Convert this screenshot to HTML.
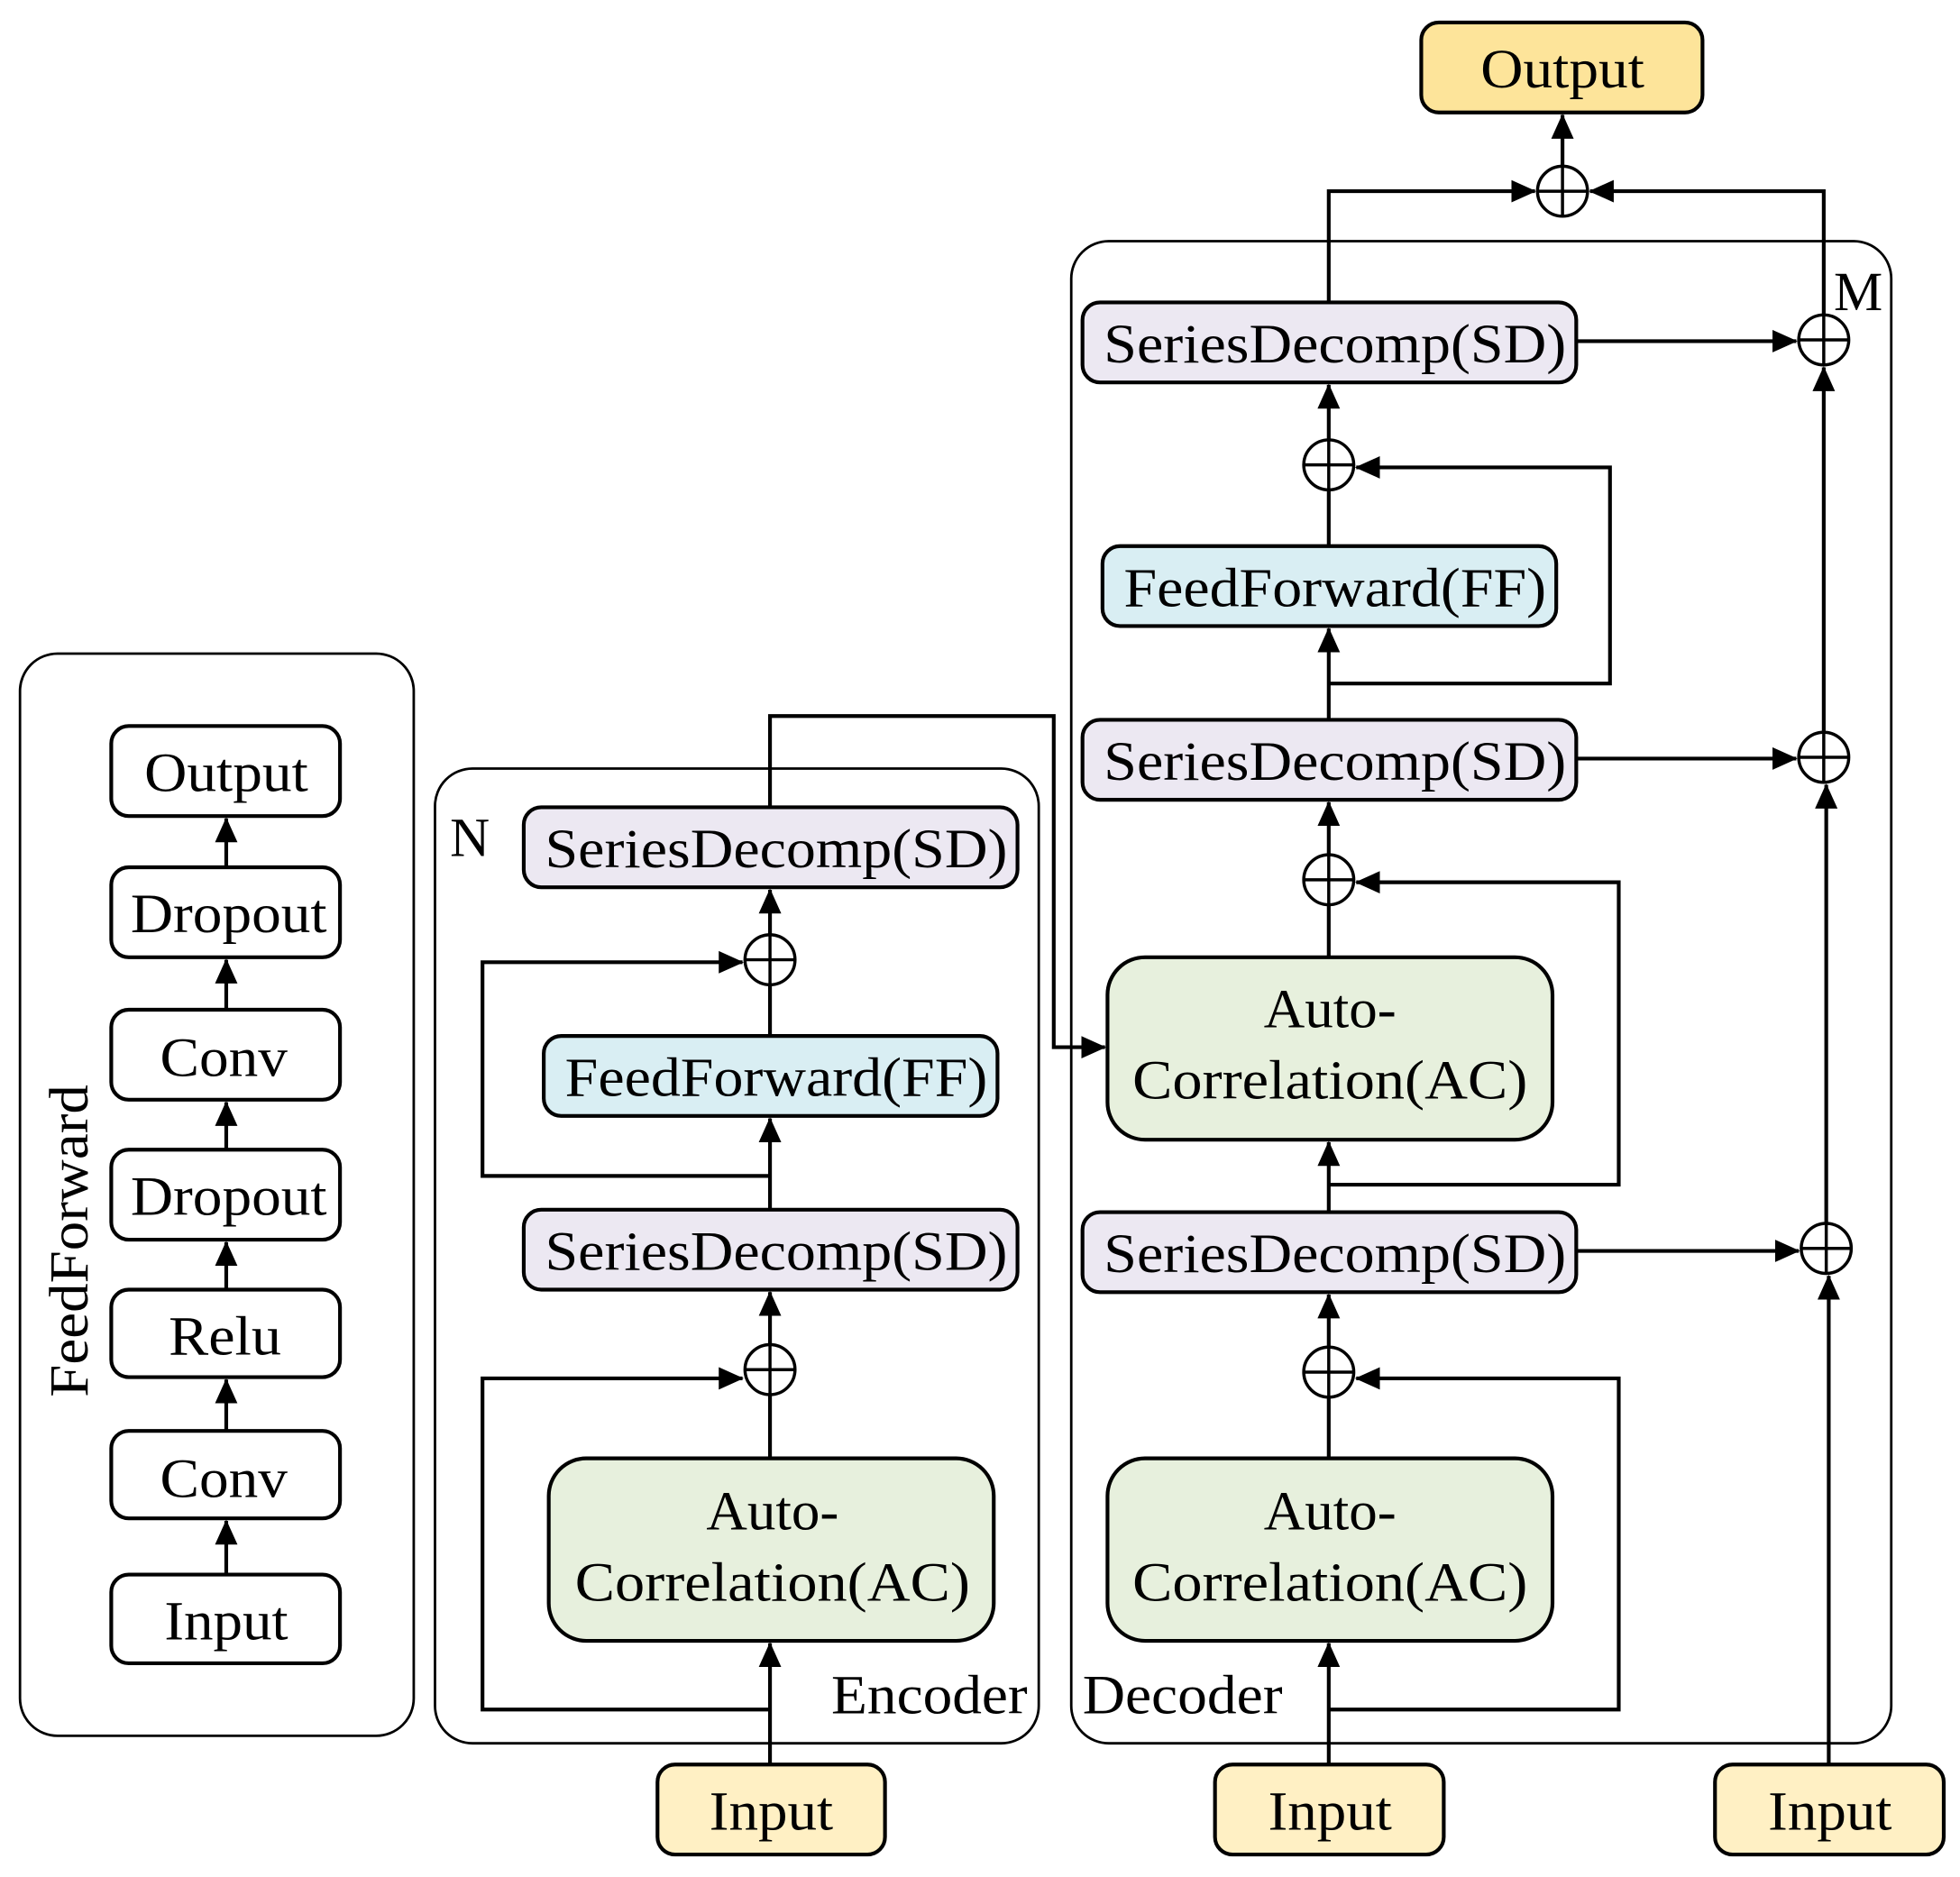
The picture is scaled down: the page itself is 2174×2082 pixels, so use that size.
<!DOCTYPE html>
<html><head><meta charset="utf-8"><style>
html,body{margin:0;padding:0;background:#fff;}
svg{display:block;}
text{font-family:"Liberation Serif",serif;fill:#000;}
</style></head><body>
<svg width="2174" height="2082" viewBox="0 0 1568 1502" preserveAspectRatio="none" xmlns="http://www.w3.org/2000/svg">
<defs>
<marker id="b" markerWidth="20" markerHeight="18" refX="19" refY="9" orient="auto" markerUnits="userSpaceOnUse" viewBox="0 0 20 18">
<path d="M0,0 L20,9 L0,18 z" fill="#000"/></marker>
</defs>
<g fill="none" stroke="#000" stroke-width="2">
<rect x="16" y="523" width="315" height="866" rx="30"/>
<rect x="348" y="615" width="483" height="780" rx="30"/>
<rect x="857" y="193" width="656" height="1202" rx="30"/>
</g>
<g stroke="#000" stroke-width="3" fill="#fff">
<rect x="89" y="581" width="183" height="72" rx="14"/>
<rect x="89" y="694" width="183" height="72" rx="14"/>
<rect x="89" y="808" width="183" height="72" rx="14"/>
<rect x="89" y="920" width="183" height="72" rx="14"/>
<rect x="89" y="1032" width="183" height="70" rx="14"/>
<rect x="89" y="1145" width="183" height="70" rx="14"/>
<rect x="89" y="1260" width="183" height="71" rx="14"/>
</g>
<g stroke="#000" stroke-width="3" marker-end="url(#b)">
<line x1="181" y1="694" x2="181" y2="655"/>
<line x1="181" y1="808" x2="181" y2="768"/>
<line x1="181" y1="920" x2="181" y2="882"/>
<line x1="181" y1="1032" x2="181" y2="994"/>
<line x1="181" y1="1145" x2="181" y2="1104"/>
<line x1="181" y1="1260" x2="181" y2="1217"/>
</g>
<g font-size="44" text-anchor="middle" lengthAdjust="spacingAndGlyphs">
<text x="181" y="633" textLength="131" lengthAdjust="spacingAndGlyphs">Output</text>
<text x="183" y="746" textLength="157" lengthAdjust="spacingAndGlyphs">Dropout</text>
<text x="179" y="861" textLength="102" lengthAdjust="spacingAndGlyphs">Conv</text>
<text x="183" y="972" textLength="157" lengthAdjust="spacingAndGlyphs">Dropout</text>
<text x="180" y="1084" textLength="90" lengthAdjust="spacingAndGlyphs">Relu</text>
<text x="179" y="1198" textLength="102" lengthAdjust="spacingAndGlyphs">Conv</text>
<text x="181" y="1312" textLength="99" lengthAdjust="spacingAndGlyphs">Input</text>
<text transform="translate(70,993) rotate(-90)" textLength="250" lengthAdjust="spacingAndGlyphs">FeedForward</text>
</g>
<g stroke="#000" stroke-width="3">
<rect x="419" y="646" width="395" height="64" rx="14" fill="#ece8f2"/>
<rect x="435" y="829" width="363" height="64" rx="14" fill="#d9eef3"/>
<rect x="419" y="968" width="395" height="64" rx="14" fill="#ece8f2"/>
<rect x="439" y="1167" width="356" height="146" rx="30" fill="#e7f0dd"/>
<rect x="526" y="1412" width="182" height="72" rx="14" fill="#fff0c4"/>
<rect x="866" y="242" width="395" height="64" rx="14" fill="#ece8f2"/>
<rect x="882" y="437" width="363" height="64" rx="14" fill="#d9eef3"/>
<rect x="866" y="576" width="395" height="64" rx="14" fill="#ece8f2"/>
<rect x="886" y="766" width="356" height="146" rx="30" fill="#e7f0dd"/>
<rect x="866" y="970" width="395" height="64" rx="14" fill="#ece8f2"/>
<rect x="886" y="1167" width="356" height="146" rx="30" fill="#e7f0dd"/>
<rect x="972" y="1412" width="183" height="72" rx="14" fill="#fff0c4"/>
<rect x="1372" y="1412" width="183" height="72" rx="14" fill="#fff0c4"/>
<rect x="1137" y="18" width="225" height="72" rx="14" fill="#fde49a"/>
</g>
<g font-size="44" text-anchor="middle">
<text x="621" y="694" textLength="370" lengthAdjust="spacingAndGlyphs">SeriesDecomp(SD)</text>
<text x="621" y="877" textLength="338" lengthAdjust="spacingAndGlyphs">FeedForward(FF)</text>
<text x="621" y="1016" textLength="370" lengthAdjust="spacingAndGlyphs">SeriesDecomp(SD)</text>
<text x="618" y="1224" textLength="106" lengthAdjust="spacingAndGlyphs">Auto-</text>
<text x="618" y="1281" textLength="316" lengthAdjust="spacingAndGlyphs">Correlation(AC)</text>
<text x="617" y="1464" textLength="99" lengthAdjust="spacingAndGlyphs">Input</text>
<text x="1068" y="290" textLength="370" lengthAdjust="spacingAndGlyphs">SeriesDecomp(SD)</text>
<text x="1068" y="485" textLength="338" lengthAdjust="spacingAndGlyphs">FeedForward(FF)</text>
<text x="1068" y="624" textLength="370" lengthAdjust="spacingAndGlyphs">SeriesDecomp(SD)</text>
<text x="1064" y="822" textLength="106" lengthAdjust="spacingAndGlyphs">Auto-</text>
<text x="1064" y="879" textLength="316" lengthAdjust="spacingAndGlyphs">Correlation(AC)</text>
<text x="1068" y="1018" textLength="370" lengthAdjust="spacingAndGlyphs">SeriesDecomp(SD)</text>
<text x="1064" y="1224" textLength="106" lengthAdjust="spacingAndGlyphs">Auto-</text>
<text x="1064" y="1281" textLength="316" lengthAdjust="spacingAndGlyphs">Correlation(AC)</text>
<text x="1064" y="1464" textLength="99" lengthAdjust="spacingAndGlyphs">Input</text>
<text x="1464" y="1464" textLength="99" lengthAdjust="spacingAndGlyphs">Input</text>
<text x="1250" y="70" textLength="131" lengthAdjust="spacingAndGlyphs">Output</text>
</g>
<g font-size="44">
<text x="360" y="685">N</text>
<text x="665" y="1371" textLength="157" lengthAdjust="spacingAndGlyphs">Encoder</text>
<text x="866" y="1371" textLength="160" lengthAdjust="spacingAndGlyphs">Decoder</text>
<text x="1467" y="248">M</text>
</g>
<g stroke="#000" stroke-width="2.5" fill="#fff">
<g transform="translate(616,768)"><circle r="20"/><line x1="-20" y1="0" x2="20" y2="0"/><line x1="0" y1="-20" x2="0" y2="20"/></g>
<g transform="translate(616,1096)"><circle r="20"/><line x1="-20" y1="0" x2="20" y2="0"/><line x1="0" y1="-20" x2="0" y2="20"/></g>
<g transform="translate(1063,372)"><circle r="20"/><line x1="-20" y1="0" x2="20" y2="0"/><line x1="0" y1="-20" x2="0" y2="20"/></g>
<g transform="translate(1063,704)"><circle r="20"/><line x1="-20" y1="0" x2="20" y2="0"/><line x1="0" y1="-20" x2="0" y2="20"/></g>
<g transform="translate(1063,1098)"><circle r="20"/><line x1="-20" y1="0" x2="20" y2="0"/><line x1="0" y1="-20" x2="0" y2="20"/></g>
<g transform="translate(1459,272)"><circle r="20"/><line x1="-20" y1="0" x2="20" y2="0"/><line x1="0" y1="-20" x2="0" y2="20"/></g>
<g transform="translate(1459,606)"><circle r="20"/><line x1="-20" y1="0" x2="20" y2="0"/><line x1="0" y1="-20" x2="0" y2="20"/></g>
<g transform="translate(1461,999)"><circle r="20"/><line x1="-20" y1="0" x2="20" y2="0"/><line x1="0" y1="-20" x2="0" y2="20"/></g>
<g transform="translate(1250,153)"><circle r="20"/><line x1="-20" y1="0" x2="20" y2="0"/><line x1="0" y1="-20" x2="0" y2="20"/></g>
</g>
<g stroke="#000" stroke-width="3" fill="none">
<line x1="616" y1="1412" x2="616" y2="1315" marker-end="url(#b)"/>
<polyline points="616,1368 386,1368 386,1103 594,1103" marker-end="url(#b)"/>
<line x1="616" y1="1167" x2="616" y2="1116"/>
<line x1="616" y1="1076" x2="616" y2="1034" marker-end="url(#b)"/>
<line x1="616" y1="968" x2="616" y2="895" marker-end="url(#b)"/>
<polyline points="616,941 386,941 386,770 594,770" marker-end="url(#b)"/>
<line x1="616" y1="829" x2="616" y2="788"/>
<line x1="616" y1="748" x2="616" y2="712" marker-end="url(#b)"/>
<polyline points="616,646 616,573 843,573 843,838 884,838" marker-end="url(#b)"/>
<line x1="1063" y1="1412" x2="1063" y2="1315" marker-end="url(#b)"/>
<polyline points="1063,1368 1295,1368 1295,1103 1085,1103" marker-end="url(#b)"/>
<line x1="1063" y1="1167" x2="1063" y2="1118"/>
<line x1="1063" y1="1078" x2="1063" y2="1036" marker-end="url(#b)"/>
<line x1="1063" y1="970" x2="1063" y2="914" marker-end="url(#b)"/>
<polyline points="1063,948 1295,948 1295,706 1085,706" marker-end="url(#b)"/>
<line x1="1063" y1="766" x2="1063" y2="724"/>
<line x1="1063" y1="684" x2="1063" y2="642" marker-end="url(#b)"/>
<line x1="1063" y1="576" x2="1063" y2="503" marker-end="url(#b)"/>
<polyline points="1063,547 1288,547 1288,374 1085,374" marker-end="url(#b)"/>
<line x1="1063" y1="437" x2="1063" y2="392"/>
<line x1="1063" y1="352" x2="1063" y2="308" marker-end="url(#b)"/>
<polyline points="1063,242 1063,153 1228,153" marker-end="url(#b)"/>
<line x1="1261" y1="273" x2="1437" y2="273" marker-end="url(#b)"/>
<line x1="1261" y1="607" x2="1437" y2="607" marker-end="url(#b)"/>
<line x1="1261" y1="1001" x2="1439" y2="1001" marker-end="url(#b)"/>
<line x1="1463" y1="1412" x2="1463" y2="1021" marker-end="url(#b)"/>
<line x1="1461" y1="979" x2="1461" y2="628" marker-end="url(#b)"/>
<line x1="1459" y1="586" x2="1459" y2="294" marker-end="url(#b)"/>
<polyline points="1459,252 1459,153 1272,153" marker-end="url(#b)"/>
<line x1="1250" y1="133" x2="1250" y2="92" marker-end="url(#b)"/>
</g>
</svg>
</body></html>
